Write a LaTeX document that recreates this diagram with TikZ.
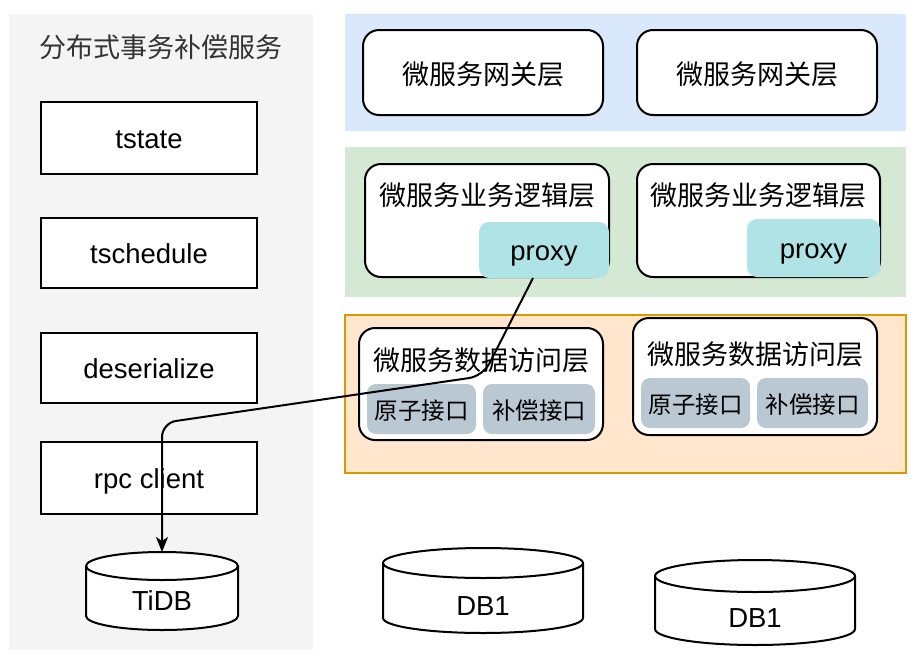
\documentclass[tikz,border=0pt]{standalone}
\usepackage{fontspec}
\setmainfont{Liberation Sans}
\newfontfamily\cjk{Noto Sans CJK SC}
\usetikzlibrary{arrows.meta}
\definecolor{panelgrey}{HTML}{F4F4F4}
\definecolor{bandblue}{HTML}{DAE8FC}
\definecolor{bandgreen}{HTML}{D5E8D4}
\definecolor{bandorange}{HTML}{FFE6CC}
\definecolor{strokeorange}{HTML}{D79B00}
\definecolor{proxyc}{HTML}{B0E3E6}
\definecolor{ifacec}{HTML}{BAC8D3}
\definecolor{titlegrey}{HTML}{333333}
\newcommand\mydbcyl[6]{%
  \pgfmathsetmacro\rxa{#3/2}%
  \pgfmathsetmacro\yta{#2+#5}%
  \pgfmathsetmacro\yba{#2+#4-#5}%
  \pgfmathsetmacro\xra{#1+#3}%
  \draw[line width=2pt, fill=white] (#1,\yta) -- (#1,\yba)
     arc[start angle=180,end angle=360,x radius=\rxa pt,y radius=#5pt] -- (\xra,\yta)
     arc[start angle=0,end angle=180,x radius=\rxa pt,y radius=#5pt] -- cycle;
  \draw[line width=2pt] (#1,\yta) arc[start angle=180,end angle=360,x radius=\rxa pt,y radius=#5pt];
  \node[minimum width=#3pt, minimum height=#4pt, anchor=north west] (#6) at (#1,#2) {};
}
\begin{document}
\begin{tikzpicture}[x=1pt,y=-1pt,
  every node/.style={inner sep=0pt, outer sep=0pt},
  lat/.style={font=\fontsize{27.5}{33}\selectfont, text height=20pt, text depth=0pt},
  cjkbig/.style={font=\cjk\fontsize{27}{32}\selectfont, yshift=-2pt},
  cjksmall/.style={font=\cjk\fontsize{23.5}{28}\selectfont, yshift=-2pt},
  band/.style={minimum width=561pt, anchor=north west},
  plainbox/.style={draw=black, line width=2pt, fill=white, minimum width=216pt, lat},
  roundbox/.style={draw=black, line width=2pt, fill=white, rounded corners=16pt, anchor=north west},
  proxybox/.style={fill=proxyc, rounded corners=10pt, anchor=north west},
  ifacebox/.style={fill=ifacec, rounded corners=9pt, anchor=north west, minimum height=50pt},
  link/.style={line width=2pt, rounded corners=14pt, -{Stealth[length=15pt,width=12pt,inset=4pt]}},
]
\useasboundingbox (0,0) rectangle (924,670);
\fill[white] (0,0) rectangle (924,670);

% left panel
\node[fill=panelgrey, minimum width=304pt, minimum height=636pt, anchor=north west] (panel) at (9,14) {};
\node[cjkbig, text=titlegrey] (title) at (161,45) {分布式事务补偿服务};
\node[plainbox, minimum height=72pt] (tstate) at (149,138) {tstate};
\node[plainbox, minimum height=70pt] (tschedule) at (149,253) {tschedule};
\node[plainbox, minimum height=70pt] (deser) at (149,368) {deserialize};
\node[plainbox, minimum height=72pt] (rpc) at (149,478) {rpc client};

% gateway band
\node[band, fill=bandblue, minimum height=117pt] (blueband) at (345,14) {};
\node[roundbox, minimum width=240pt, minimum height=85pt] (gw1) at (363,30) {};
\node[cjkbig] (gw1t) at (gw1.center) {微服务网关层};
\node[roundbox, minimum width=240pt, minimum height=85pt] (gw2) at (637,30) {};
\node[cjkbig] (gw2t) at (gw2.center) {微服务网关层};

% business band
\node[band, fill=bandgreen, minimum height=150pt] (greenband) at (345,147) {};
\node[roundbox, minimum width=244pt, minimum height=113pt] (biz1) at (365,164) {};
\node[cjkbig] (biz1t) at (487,193) {微服务业务逻辑层};
\node[proxybox, minimum width=130pt, minimum height=56pt] (proxy1) at (479,222) {};
\node[lat] (proxy1t) at (proxy1.center) {proxy};
\node[roundbox, minimum width=243pt, minimum height=113pt] (biz2) at (637,164) {};
\node[cjkbig] (biz2t) at (758,193) {微服务业务逻辑层};
\node[proxybox, minimum width=133pt, minimum height=58pt] (proxy2) at (747,219) {};
\node[lat] (proxy2t) at (proxy2.center) {proxy};

% data band
\node[band, fill=bandorange, draw=strokeorange, line width=2pt, minimum height=158pt] (orangeband) at (345,315) {};
\node[roundbox, minimum width=244pt, minimum height=112pt] (data1) at (359,328) {};
\node[cjkbig] (data1t) at (481,358) {微服务数据访问层};
\node[ifacebox, minimum width=109pt] (atom1) at (367,384) {};
\node[cjksmall] (atom1t) at (atom1.center) {原子接口};
\node[ifacebox, minimum width=112pt] (comp1) at (483,384) {};
\node[cjksmall] (comp1t) at (comp1.center) {补偿接口};
\node[roundbox, minimum width=244pt, minimum height=117pt] (data2) at (633,318) {};
\node[cjkbig] (data2t) at (755,352) {微服务数据访问层};
\node[ifacebox, minimum width=109pt] (atom2) at (641,378) {};
\node[cjksmall] (atom2t) at (atom2.center) {原子接口};
\node[ifacebox, minimum width=111pt] (comp2) at (757,378) {};
\node[cjksmall] (comp2t) at (comp2.center) {补偿接口};

% databases
\mydbcyl{86}{552}{152}{78}{14}{tidb}
\node[lat] (tidbt) at (162,600) {TiDB};
\mydbcyl{383}{548}{200}{85}{15}{dba}
\node[lat] (dbat) at (483,605) {DB1};
\mydbcyl{655}{560}{200}{85}{16}{dbb}
\node[lat] (dbbt) at (755,617) {DB1};

% connector
\coordinate (bend1) at (483,376);
\coordinate (bend2) at (162,423);
\draw[link] ([xshift=-11pt]proxy1.south) -- (bend1) -- (bend2) -- (tidb.north);
\end{tikzpicture}
\end{document}
